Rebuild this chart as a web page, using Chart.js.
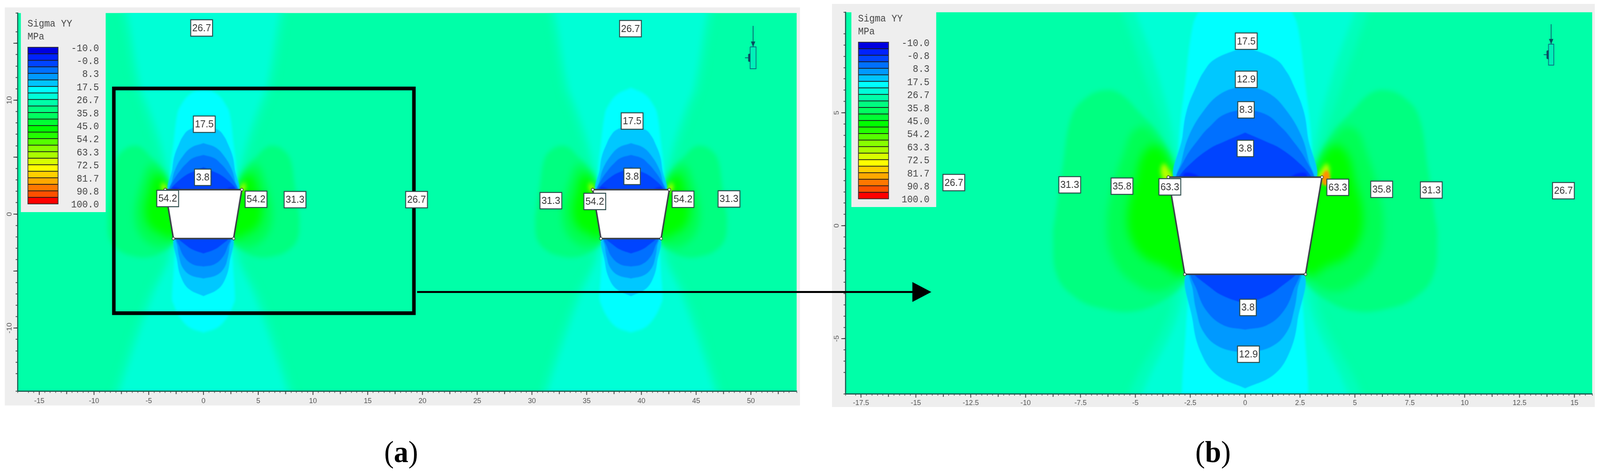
<!DOCTYPE html>
<html>
<head>
<meta charset="utf-8">
<title>Sigma YY</title>
<script src="https://cdn.jsdelivr.net/npm/chart.js@4/dist/chart.umd.min.js"></script>
<style>
  html, body { margin: 0; background: #fff; height: 1216px; overflow: hidden; }
  #page { position: absolute; left: 0; top: 0; width: 4300px; height: 1216px; transform-origin: 0 0; }
  canvas { position: absolute; background: #eeeeee; filter: blur(0.7px); }
  #panelA { left: 13px; top: 19px; }
  #panelB { left: 2236px; top: 10px; }
  svg { position: absolute; left: 0; top: 0; }
  .cap { position: absolute; top: 1112px; width: 200px; text-align: center; font: 78px "Liberation Serif", serif; color: #000; }
</style>
</head>
<body>
<div id="page">
<canvas id="panelA" width="2137" height="1019"></canvas>
<canvas id="panelB" width="2050" height="1032"></canvas>
<svg width="4300" height="1216">
  <line x1="1121" y1="747.5" x2="2455" y2="747.5" stroke="#000" stroke-width="5"/>
  <polygon points="2452,722 2503,747.5 2452,773" fill="#000"/>
</svg>
<div class="cap" style="left:978px">(<b>a</b>)</div>
<div class="cap" style="left:3160px">(<b>b</b>)</div>
</div>
<script>
// the window can come up narrower than 4300 (seen: 4096), squeeze so nothing is cut off
document.getElementById('page').style.transform = `scaleX(${Math.min(1, window.innerWidth / 4300)})`;

// legend of the contour plot
const legendLevels = ['-10.0', '-0.8', '8.3', '17.5', '26.7', '35.8', '45.0', '54.2', '63.3', '72.5', '81.7', '90.8', '100.0'];
const legendColors = ['#0000E0', '#0022FF', '#0044FF', '#0070FF', '#0099FF', '#00C4FF', '#00FFFF', '#00FFD8',
    '#00FFA8', '#00FF80', '#00FF60', '#00FF33', '#00FF00', '#22FF00', '#55FF00', '#88FF00',
    '#AAFF00', '#D8FF00', '#FFFF00', '#FFD000', '#FFA800', '#FF7800', '#FF5000', '#FF0000'];

// tick labels
const xTicksA = [-15, -10, -5, 0, 5, 10, 15, 20, 25, 30, 35, 40, 45, 50];
const yTicksA = [-10, 0, 10];
const xTicksB = [-17.5, -15, -12.5, -10, -7.5, -5, -2.5, 0, 2.5, 5, 7.5, 10, 12.5, 15];
const yTicksB = [-5, 0, 5];

// contour value boxes, panel a
const labelsATextA = ['26.7', '17.5', '3.8', '54.2', '54.2', '31.3', '26.7', '31.3', '54.2', '3.8', '17.5', '26.7', '54.2', '31.3'];
const labelsAX = [-0.17, 0.07, -0.07, -3.27, 4.8, 8.36, 19.46, 31.73, 35.74, 39.15, 39.15, 39.0, 43.8, 48.0];
const labelsAY = [16.34, 7.89, 3.23, 1.37, 1.3, 1.27, 1.27, 1.18, 1.11, 3.31, 8.17, 16.28, 1.3, 1.33];

// contour value boxes, panel b
const labelsBText = ['26.7', '31.3', '35.8', '63.3', '17.5', '12.9', '8.3', '3.8', '3.8', '12.9', '63.3', '35.8', '31.3', '26.7'];
const labelsBX = [-13.27, -7.99, -5.61, -3.43, 0.05, 0.05, 0.04, 0.01, 0.13, 0.15, 4.22, 6.22, 8.48, 14.5];
const labelsBY = [1.91, 1.81, 1.75, 1.72, 8.17, 6.48, 5.13, 3.42, -3.62, -5.69, 1.7, 1.61, 1.58, 1.55];

// opening centres
const openingsA = [0, 39.05];
const openingsB = [0];

// opening outline, relative to its centre
const openingX = [-3.5, 3.5, 2.75, -2.75, -3.5];
const openingY = [2.15, 2.15, -2.15, -2.15, 2.15];

// contours, right half, relative to the opening centre
const funnelOuterX = [8.3, 7.5, 6.3, 5.6, 4.5, 3.4, 3.2, 3.3, 5.3, 8.2, 9.2];
const funnelInnerX = [7.6, 6.9, 5.7, 5.0, 3.9, 3.1, 2.9, 2.9, 4.7, 7.6, 8.6];
const funnelY = [20, 17.66, 11.2, 9.46, 6.4, 3.1, 0, -3.4, -7.45, -15.56, -19];

const cyanX = [0, 1.3, 2.1, 2.4, 2.75, 3.0, 3.05, 2.62, 2.7, 2.88, 2.75, 2.2, 1.3, 0];
const cyanY = [11.1, 10.5, 9.5, 8.8, 6.2, 4, 2.2, -2.5, -4.5, -7.4, -7.9, -9, -9.95, -10.4];

const upper4X = [0, 1.4, 1.9, 2.2, 2.66, 2.85, 3.07];
const upper4Y = [7.92, 7.36, 6.8, 6.23, 5.1, 3.98, 2.0];
const upper3X = [0, 1.1, 1.88, 2.56, 2.9, 3.05];
const upper3Y = [6.23, 5.85, 5.1, 3.98, 2.85, 2.0];
const upper2X = [0, 1.0, 1.6, 2.0, 2.8, 3.03];
const upper2Y = [5.19, 4.9, 4.4, 3.98, 2.85, 2.0];
const upper1X = [0, 1.0, 1.6, 2.37, 3.0, 3.0];
const upper1Y = [4.12, 3.7, 3.42, 2.85, 2.2, 2.0];

const lower4X = [0, 1.3, 2.0, 2.38, 2.5];
const lower4Y = [-7.2, -6.6, -5.65, -4.25, -2.0];
const lower3X = [0, 1.2, 1.9, 2.22, 2.38, 2.45];
const lower3Y = [-5.65, -5.35, -4.7, -3.78, -2.85, -2.0];
const lower2X = [0, 1.0, 1.75, 2.2, 2.4];
const lower2Y = [-4.6, -4.4, -3.78, -2.85, -2.0];
const lower1X = [0, 0.9, 1.5, 2.3];
const lower1Y = [-3.45, -3.15, -2.8, -2.0];

// darker patches just above the top corners
const patchX = [2.0, 2.35, 2.75, 2.85];
const patchY = [2.1, 2.3, 2.33, 2.1];

// green lobes beside the opening
const lobeOuterX = [2.8, 3.1, 3.9, 4.9, 5.7, 6.4, 7.2, 7.9, 8.33, 8.65, 8.75, 8.56, 7.7, 6.6, 5.0, 3.55, 2.6, 2.4];
const lobeOuterY = [1.8, 2.3, 4.0, 5.1, 5.85, 6.0, 5.7, 4.87, 2.5, 0.4, -0.46, -2.24, -3.2, -3.65, -3.78, -3.2, -2.3, -1.5];
const lobeMidX = [2.8, 3.05, 3.7, 4.5, 5.1, 5.5, 6.0, 6.3, 6.0, 5.0, 3.9, 2.85, 2.4];
const lobeMidY = [1.8, 2.2, 3.4, 4.35, 4.2, 3.3, 1.8, 0.1, -1.5, -2.6, -2.9, -2.3, -1.5];
const lobeInnerX = [2.8, 3.2, 3.7, 4.2, 4.7, 5.0, 5.35, 5.2, 4.6, 3.7, 2.9, 2.4];
const lobeInnerY = [1.8, 2.3, 3.3, 3.55, 3.1, 2.0, 0.6, -0.6, -1.4, -1.8, -2.2, -1.5];
const hotX = [3.3, 3.55, 3.72, 3.85, 3.7, 3.4];
const hotY = [2.2, 2.6, 2.75, 2.45, 2.0, 1.9];
const orangeX = [3.45, 3.7, 3.85, 3.8, 3.55];
const orangeY = [2.15, 2.45, 2.25, 1.8, 1.8];

// black selection rectangle, panel a
const frameX = [-8.19, 19.22, 19.22, -8.19, -8.19, 19.22];
const frameY = [11.03, 11.03, -8.7, -8.7, 11.03, 11.03];

// small monitoring symbol, top right
const iconAX = [49.93, 50.47, 50.47, 49.93, 49.93];
const iconAY = [14.68, 14.68, 12.76, 12.76, 14.68];
const iconAStemX = [50.2, 50.2];
const iconAStemY = [16.52, 14.68];
const iconAStubX = [49.46, 49.93];
const iconAStubY = [13.72, 13.72];
const iconAHeadX = [50.0, 50.4, 50.2];
const iconAHeadY = [15.15, 15.15, 14.68];
const iconAMarkX = [49.75, 49.93, 49.93, 49.75];
const iconAMarkY = [14.05, 14.1, 13.35, 13.4];
const iconBX = [13.82, 14.06, 14.06, 13.82, 13.82];
const iconBY = [8.04, 8.04, 7.11, 7.11, 8.04];
const iconBStemX = [13.94, 13.94];
const iconBStemY = [8.92, 8.04];
const iconBStubX = [13.6, 13.82];
const iconBStubY = [7.57, 7.57];
const iconBHeadX = [13.84, 14.04, 13.94];
const iconBHeadY = [8.27, 8.27, 8.04];
const iconBMarkX = [13.73, 13.82, 13.82, 13.73];
const iconBMarkY = [7.74, 7.78, 7.36, 7.4];

function pts(xs, ys, cx, sign) {
    return xs.map((x, i) => ({ x: cx + sign * x, y: ys[i] }));
}

// right half plus its mirror image
function both(xs, ys, cx) {
    return pts(xs, ys, cx, 1).concat(pts(xs, ys, cx, -1).reverse());
}

function area(data, color, blur, tension) {
    return {
        data: data,
        showLine: true,
        fill: 'shape',
        backgroundColor: color,
        borderColor: 'transparent',
        borderWidth: 0,
        pointRadius: 0,
        tension: tension === undefined ? 0.4 : tension,
        blur: blur
    };
}

function outline(data, color, width) {
    return {
        data: data,
        showLine: true,
        fill: false,
        borderColor: color,
        borderWidth: width,
        borderJoinStyle: 'miter',
        pointRadius: 0,
        tension: 0
    };
}

// datasets bottom to top, reversed at the end because chart.js paints the first dataset last
function buildLayers(openings, orangeRight, extras) {
    const layers = [];
    openings.forEach(cx => {
        layers.push(area(both(funnelOuterX, funnelY, cx), '#00FFBC', 10));
    });
    openings.forEach(cx => {
        layers.push(area(both(funnelInnerX, funnelY, cx), '#00FFD6', 8));
    });
    openings.forEach(cx => {
        [1, -1].forEach(side => {
            layers.push(area(pts(lobeOuterX, lobeOuterY, cx, side), '#00FF80', 6));
        });
        [1, -1].forEach(side => {
            layers.push(area(pts(lobeMidX, lobeMidY, cx, side), '#00FF55', 10));
        });
        [1, -1].forEach(side => {
            layers.push(area(pts(lobeInnerX, lobeInnerY, cx, side), '#00FF00', 12));
        });
        [1, -1].forEach(side => {
            layers.push(area(pts(hotX, hotY, cx, side), '#B4FF00', 6));
        });
        if (orangeRight) {
            layers.push(area(pts(orangeX, orangeY, cx, 1), '#FF9000', 3));
        }
        layers.push(area(both(cyanX, cyanY, cx), '#00FFFF', 3));
        layers.push(area(both(upper4X, upper4Y, cx), '#00C8FF', 1));
        layers.push(area(both(lower4X, lower4Y, cx), '#00C8FF', 1));
        layers.push(area(both(upper3X, upper3Y, cx), '#0099FF', 1));
        layers.push(area(both(lower3X, lower3Y, cx), '#0099FF', 1));
        layers.push(area(both(upper2X, upper2Y, cx), '#0070FF', 1));
        layers.push(area(both(lower2X, lower2Y, cx), '#0070FF', 1));
        layers.push(area(both(upper1X, upper1Y, cx), '#0044FF', 1));
        layers.push(area(both(lower1X, lower1Y, cx), '#0044FF', 1));
        [1, -1].forEach(side => {
            layers.push(area(pts(patchX, patchY, cx, side), '#0028FF', 2));
        });
        const opening = area(pts(openingX, openingY, cx, 1), '#FFFFFF', 0, 0);
        opening.borderColor = '#3A4048';
        opening.borderWidth = 4;
        opening.pointRadius = 3.5;
        opening.pointBackgroundColor = '#FFFFFF';
        opening.pointBorderColor = '#333333';
        opening.pointBorderWidth = 1.5;
        layers.push(opening);
    });
    return layers.concat(extras).reverse();
}

function iconLayers(rx, ry, sx, sy, ux, uy, hx, hy, mx, my) {
    const box = area(pts(rx, ry, 0, 1), '#00F0B8', 0, 0);
    box.borderColor = '#0B6A80';
    box.borderWidth = 2;
    return [
        box,
        outline(pts(sx, sy, 0, 1), '#0B5A70', 2),
        outline(pts(ux, uy, 0, 1), '#0B5A70', 2),
        area(pts(hx, hy, 0, 1), '#0A4A60', 0, 0),
        area(pts(mx, my, 0, 1), '#0A4A60', 0, 0)
    ];
}

// field background, soft contours, value boxes and legend
const fieldPlugin = {
    id: 'field',
    beforeDatasetsDraw(chart) {
        const ctx = chart.ctx, a = chart.chartArea;
        ctx.fillStyle = '#00FFA8';
        ctx.fillRect(a.left, a.top, a.width, a.height);
        const last = chart.data.datasets[chart.data.datasets.length - 1];
        ctx.filter = last.blur ? `blur(${last.blur}px)` : 'none';
    },
    afterDatasetDraw(chart, args) {
        const next = chart.data.datasets[args.index - 1];
        chart.ctx.filter = next && next.blur ? `blur(${next.blur}px)` : 'none';
    },
    afterDatasetsDraw(chart, args, opts) {
        const ctx = chart.ctx;
        ctx.filter = 'none';
        drawLongTicks(chart, opts);
        drawBoxes(chart, opts);
        drawLegend(ctx, opts.legendX, opts.legendY);
    }
};

function drawLongTicks(chart, opts) {
    const ctx = chart.ctx, sx = chart.scales.x, sy = chart.scales.y, a = chart.chartArea;
    ctx.strokeStyle = '#333';
    ctx.lineWidth = 2;
    sx.ticks.forEach(t => {
        const major = t.value % opts.xMajor === 0, mid = t.value % (opts.xMajor / 2) === 0;
        if (!major && !mid) return;
        const px = sx.getPixelForValue(t.value);
        ctx.beginPath();
        ctx.moveTo(px, a.bottom);
        ctx.lineTo(px, a.bottom + (major ? 10 : 8));
        ctx.stroke();
    });
    sy.ticks.forEach(t => {
        if (t.value % 5 !== 0) return;
        const py = sy.getPixelForValue(t.value);
        ctx.beginPath();
        ctx.moveTo(a.left, py);
        ctx.lineTo(a.left - 11, py);
        ctx.stroke();
    });
}

function drawBoxes(chart, opts) {
    const ctx = chart.ctx, sx = chart.scales.x, sy = chart.scales.y;
    ctx.font = '26px "Liberation Sans"';
    ctx.textAlign = 'center';
    ctx.textBaseline = 'middle';
    opts.text.forEach((t, i) => {
        const px = sx.getPixelForValue(opts.labelX[i]), py = sy.getPixelForValue(opts.labelY[i]);
        const w = ctx.measureText(t).width + 8, h = 42;
        ctx.fillStyle = '#FFFFFF';
        ctx.fillRect(px - w / 2, py - h / 2, w, h);
        ctx.strokeStyle = '#2B4A4A';
        ctx.lineWidth = 2.5;
        ctx.strokeRect(px - w / 2, py - h / 2, w, h);
        ctx.fillStyle = '#333';
        ctx.fillText(t, px, py + 1);
    });
}

function drawLegend(ctx, x, y) {
    ctx.fillStyle = '#EEEEEE';
    ctx.fillRect(x, y, 228, 514);
    ctx.fillStyle = '#444';
    ctx.font = '25px "Liberation Mono"';
    ctx.textAlign = 'left';
    ctx.textBaseline = 'middle';
    ctx.fillText('Sigma YY', x + 18, y + 32);
    ctx.fillText('MPa', x + 18, y + 65);
    const barH = 401, step = barH / legendColors.length;
    legendColors.forEach((c, i) => {
        ctx.fillStyle = c;
        ctx.fillRect(x + 19, y + 92 + i * step, 81, step);
        ctx.fillStyle = '#1A1A1A';
        ctx.fillRect(x + 19, y + 92 + i * step - 1, 81, 2);
    });
    ctx.strokeStyle = '#333';
    ctx.lineWidth = 2;
    ctx.strokeRect(x + 19, y + 92, 81, barH);
    ctx.fillStyle = '#444';
    ctx.textAlign = 'right';
    legendLevels.forEach((t, i) => {
        ctx.fillText(t, x + 210, y + 95 + i * 33.4);
    });
}

function makePanel(id, cfg) {
    return new Chart(document.getElementById(id), {
        type: 'scatter',
        data: { datasets: cfg.datasets },
        options: {
            responsive: false,
            devicePixelRatio: 1,
            animation: false,
            layout: { padding: 0 },
            elements: { line: { capBezierPoints: false } },
            plugins: {
                legend: { display: false },
                tooltip: { enabled: false },
                filler: { drawTime: 'beforeDatasetDraw' },
                field: cfg.field
            },
            scales: {
                x: {
                    type: 'linear', min: cfg.xMin, max: cfg.xMax,
                    afterFit(s) { s.height = cfg.axisH; },
                    border: { color: '#1B5A4F', width: 3, z: 1 },
                    grid: { drawOnChartArea: false, tickLength: 5, tickColor: '#444', tickWidth: 1.5 },
                    ticks: {
                        stepSize: cfg.xStep, autoSkip: false, maxRotation: 0, minRotation: 0, maxTicksLimit: 1000,
                        padding: cfg.xPad, color: '#555', font: { family: 'Liberation Sans', size: 19 },
                        callback: v => cfg.xLabels.includes(v) ? String(v) : ''
                    }
                },
                y: {
                    type: 'linear', min: cfg.yMin, max: cfg.yMax,
                    afterFit(s) { s.width = cfg.axisW; },
                    border: { color: '#1B5A4F', width: 3, z: 1 },
                    grid: { drawOnChartArea: false, tickLength: 5, tickColor: '#444', tickWidth: 2 },
                    ticks: {
                        stepSize: cfg.yStep, autoSkip: false, minRotation: 90, maxRotation: 90, maxTicksLimit: 1000,
                        crossAlign: 'center', padding: cfg.yPad, color: '#555', font: { family: 'Liberation Sans', size: 19 },
                        callback: v => cfg.yLabels.includes(v) ? String(v) : ''
                    }
                }
            }
        },
        plugins: [fieldPlugin]
    });
}

makePanel('panelA', {
    datasets: buildLayers(openingsA, false,
        iconLayers(iconAX, iconAY, iconAStemX, iconAStemY, iconAStubX, iconAStubY, iconAHeadX, iconAHeadY, iconAMarkX, iconAMarkY)
            .concat([outline(pts(frameX, frameY, 0, 1), '#000000', 9.5)])),
    xMin: -16.99, xMax: 54.18, yMin: -15.53, yMax: 17.65,
    xStep: 0.5, yStep: 1, xLabels: xTicksA, yLabels: yTicksA,
    axisW: 34, axisH: 37, xPad: 9, yPad: 3,
    field: { text: labelsATextA, labelX: labelsAX, labelY: labelsAY, legendX: 43, legendY: 10, xMajor: 5 }
});

makePanel('panelB', {
    datasets: buildLayers(openingsB, true,
        iconLayers(iconBX, iconBY, iconBStemX, iconBStemY, iconBStubX, iconBStubY, iconBHeadX, iconBHeadY, iconBMarkX, iconBMarkY)),
    xMin: -18.21, xMax: 15.81, yMin: -7.44, yMax: 9.45,
    xStep: 0.25, yStep: 0.5, xLabels: xTicksB, yLabels: yTicksB,
    axisW: 36, axisH: 34, xPad: 7, yPad: 10,
    field: { text: labelsBText, labelX: labelsBX, labelY: labelsBY, legendX: 52, legendY: 6, xMajor: 2.5 }
});
</script>
</body>
</html>
